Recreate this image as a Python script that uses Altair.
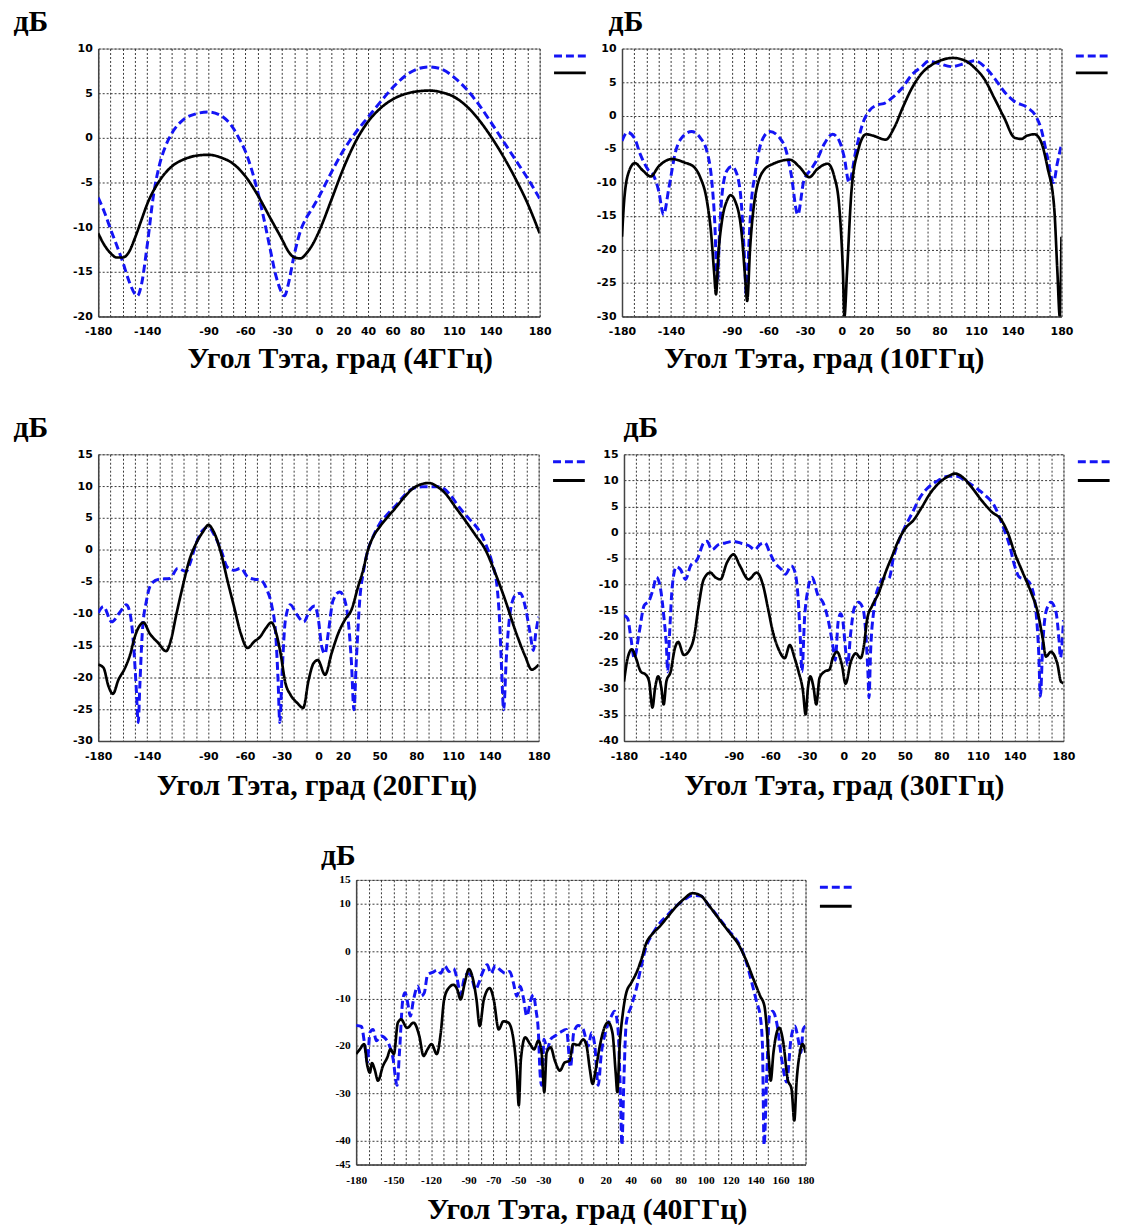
import altair as alt
import pandas as pd

SERIES = ["ряд 1", "ряд 2"]          # blue dashed, black solid
COLORS = ["#1414f5", "#000000"]
SERIF = "Liberation Serif"
SANS = "DejaVu Sans"

# ---------------- 4 GHz ----------------
P1_BLUE_DEG = [-180, -175, -170, -165, -160, -155, -150, -148, -145, -140, -135, -130, -125, -120, -110, -100, -90, -80, -70, -65, -60, -55, -50, -45, -40, -35, -30, -28, -25, -20, -15, -10, -5, 0, 10, 20, 30, 40, 50, 60, 70, 80, 90, 100, 110, 120, 130, 140, 150, 160, 170, 180]
P1_BLUE_DB = [-6.7, -8.3, -10.2, -12.0, -13.9, -16.0, -17.5, -17.7, -16.6, -12.0, -6.5, -3.0, -0.9, 0.5, 2.1, 2.7, 2.9, 2.5, 1.1, -0.1, -1.5, -3.5, -6.0, -9.0, -12.3, -15.5, -17.4, -17.7, -16.4, -13.0, -10.4, -8.9, -7.8, -6.6, -3.9, -1.4, 0.6, 2.3, 4.0, 5.6, 6.9, 7.7, 7.95, 7.7, 6.8, 5.5, 3.8, 1.8, -0.3, -2.4, -4.5, -6.8]
P1_BLACK_DEG = [-180, -175, -170, -165, -160, -155, -150, -145, -140, -130, -120, -110, -100, -90, -80, -70, -60, -50, -40, -30, -25, -20, -15, -10, -5, 0, 10, 20, 30, 40, 50, 60, 70, 80, 90, 100, 110, 120, 130, 140, 150, 160, 170, 180]
P1_BLACK_DB = [-10.7, -12.0, -12.9, -13.4, -13.4, -12.8, -11.2, -9.3, -7.4, -4.8, -3.2, -2.4, -2.0, -1.9, -2.2, -2.9, -4.3, -6.4, -8.9, -11.4, -12.7, -13.4, -13.5, -12.9, -11.9, -10.5, -7.0, -3.4, -0.4, 1.8, 3.3, 4.3, 4.9, 5.2, 5.3, 5.1, 4.6, 3.6, 2.1, 0.2, -2.0, -4.5, -7.3, -10.7]

# ---------------- 10 GHz ----------------
P2_BLUE_DEG = [-180, -175.5, -170, -165, -159, -154, -150, -146, -141.5, -136, -131, -123, -116, -110.5, -106.5, -104, -102, -100, -98, -94, -90, -86, -82, -80, -78, -76, -74.5, -71, -65.5, -59, -51, -45.5, -41.5, -36, -31, -25, -20, -14.5, -7.5, -2, 2, 6, 11.5, 17, 22.5, 28, 36, 41, 49.5, 57.5, 65.5, 71, 79, 90, 101, 109, 117, 125, 133, 141.5, 152, 159, 163, 168.5, 173.5, 176.5, 180]
P2_BLUE_DB = [-3.8, -2.5, -3.3, -5.8, -8.0, -9.0, -11.2, -14.8, -10.7, -5.3, -3.3, -2.4, -3.3, -5.3, -9.7, -16.0, -25.0, -17.0, -11.7, -8.2, -7.6, -8.7, -13.7, -20.0, -27.0, -19.0, -14.0, -8.7, -3.8, -2.4, -3.3, -5.3, -8.7, -14.8, -9.7, -8.0, -6.5, -4.3, -2.8, -3.8, -6.2, -10.0, -5.3, -1.3, 0.7, 1.5, 1.9, 2.6, 4.1, 6.1, 7.3, 8.1, 7.8, 7.3, 7.8, 8.2, 7.3, 5.6, 3.6, 2.1, 1.2, -0.1, -1.8, -6.2, -10.0, -7.2, -4.3]
P2_BLACK_DEG = [-180, -178, -174, -169.5, -163, -156.5, -150, -139, -129, -121, -116, -110.5, -107, -104.5, -103, -101, -98, -94, -91, -87.5, -82, -79, -77.5, -75, -71, -64, -56, -42.5, -34.5, -26.5, -20, -11.5, -6, -2, 1, 2.2, 4.3, 8, 13.3, 20, 25.5, 36, 43, 50, 57.5, 65.5, 74, 82, 91, 101, 109, 117, 125, 133, 141.5, 147, 152, 158, 163, 168.5, 174, 176.7, 178.6, 180]
P2_BLACK_DB = [-18.1, -12.2, -8.2, -7.1, -8.2, -9.1, -7.6, -6.5, -7.0, -7.7, -9.2, -12.7, -17.6, -23.5, -26.7, -20.6, -15.6, -12.7, -11.9, -12.7, -17.6, -24.5, -27.7, -19.6, -12.2, -8.2, -7.2, -6.6, -7.7, -9.2, -8.0, -7.2, -9.2, -13.7, -23.5, -30.0, -23.5, -11.2, -5.3, -2.8, -3.0, -3.6, -1.8, 1.2, 4.1, 6.3, 7.6, 8.3, 8.6, 8.2, 7.1, 5.4, 2.6, -0.3, -3.3, -3.5, -3.0, -2.8, -3.8, -7.7, -13.7, -23.5, -30.0, -18.1]

# ---------------- 20 GHz ----------------
P3_BLUE_DEG = [-180, -175.7, -169, -162, -157, -153.5, -151, -149, -147.3, -146, -144, -140.5, -136.5, -130, -121.5, -115, -108, -105.5, -100, -94.5, -90, -85, -79.5, -74.5, -69, -63.5, -58, -52.5, -47.5, -42, -38, -35, -33, -31.6, -29.7, -27, -23, -17.5, -12, -7, -3, 0, 2.7, 5.4, 8, 12, 17.5, 21.5, 24.3, 27, 29, 31, 34, 36.5, 40.5, 44.5, 50, 57, 63.5, 70, 77, 85, 90.5, 99, 107, 115, 123, 131, 136.5, 142, 146, 148, 149.5, 151.4, 153.5, 157, 161, 165, 169, 173, 175.7, 177.6, 180]
P3_BLUE_DB = [-9.9, -8.9, -11.3, -9.7, -8.6, -10.5, -15.2, -21.4, -27.1, -21.4, -13.1, -7.9, -5.3, -4.6, -4.5, -2.9, -3.4, -2.4, 1.0, 3.1, 3.6, 2.3, -0.1, -2.7, -3.2, -2.9, -4.2, -4.6, -4.7, -6.3, -8.9, -13.1, -20.4, -27.1, -19.3, -11.0, -8.6, -10.2, -11.3, -9.4, -8.8, -11.0, -15.2, -16.3, -13.1, -7.9, -6.6, -7.9, -11.0, -17.8, -25.1, -17.2, -7.3, -3.7, 0.0, 2.0, 4.1, 5.7, 7.0, 8.5, 9.6, 9.9, 9.9, 9.9, 8.8, 6.7, 4.9, 3.1, 1.0, -2.1, -5.8, -11.0, -17.8, -25.1, -17.2, -9.4, -7.1, -6.8, -8.9, -13.1, -15.8, -13.1, -10.5]
P3_BLACK_DEG = [-180, -175.7, -171.6, -168, -163.5, -158, -154, -150, -146.5, -143, -138, -131, -124.5, -120.5, -116, -111, -105.5, -100, -94.5, -90, -85, -79.5, -74.5, -69, -63.5, -58, -52.5, -47.5, -43, -38.5, -34.5, -31, -27, -23, -17.5, -12.5, -8, -4, -0.5, 5.4, 10.8, 16.2, 21.6, 27, 32.4, 36.5, 40.5, 44.6, 50, 56.8, 63.5, 70.3, 77, 84, 90.5, 97.3, 104, 112, 120, 128.4, 136.5, 144.6, 152.7, 160.8, 169, 174.3, 180]
P3_BLACK_DB = [-18.0, -18.5, -21.4, -22.6, -20.4, -18.5, -16.5, -13.6, -12.0, -11.4, -13.1, -14.6, -15.9, -14.1, -10.0, -5.8, -1.6, 1.0, 2.8, 3.9, 2.6, -0.6, -4.7, -8.9, -13.1, -15.4, -14.4, -13.6, -12.3, -11.4, -13.1, -16.2, -20.9, -22.7, -24.0, -24.8, -20.4, -17.8, -17.3, -19.6, -16.2, -13.1, -11.0, -9.4, -5.8, -3.2, 0.0, 2.0, 3.6, 5.2, 6.7, 8.3, 9.6, 10.3, 10.5, 9.9, 8.8, 6.7, 4.6, 2.3, 0.0, -3.7, -7.9, -12.6, -16.7, -18.8, -18.0]

# ---------------- 30 GHz ----------------
P4_BLUE_DEG = [-180, -177, -174.3, -171.6, -167.5, -163.5, -159.4, -156.2, -153.4, -150, -147.2, -145.3, -144.2, -142.6, -140.4, -137.2, -133.7, -129.6, -125.5, -120, -114.7, -112, -108, -102.5, -97, -90.3, -83.5, -78, -72.7, -68.6, -64.6, -60.5, -56.4, -51, -47.8, -43, -40.2, -37.5, -35.3, -34.2, -32.1, -29.3, -26, -21, -17, -13, -9, -7, -4.5, -2.5, -1, 1.7, 3.1, 5.8, 8.5, 12, 15.8, 18, 19.9, 20.7, 22, 24.8, 28.8, 33, 37, 41, 45, 50.5, 56, 62.7, 69.5, 77.6, 85.7, 92.5, 99.3, 107.4, 115.5, 123.7, 130.4, 136, 140, 144, 149.4, 153.5, 157.5, 159.7, 161.1, 163, 165.7, 169.7, 173.8, 176.5, 177.5, 180]
P4_BLUE_DB = [-15.9, -16.5, -20.3, -24.1, -19.1, -14.0, -13.1, -10.9, -8.6, -10.9, -16.5, -21.6, -26.7, -19.1, -10.2, -6.6, -7.1, -9.0, -6.4, -5.2, -2.0, -1.7, -3.3, -2.3, -2.0, -1.7, -2.1, -2.5, -3.3, -2.3, -2.0, -3.9, -5.8, -7.1, -8.0, -6.4, -7.4, -12.1, -21.6, -26.7, -16.5, -10.9, -8.6, -12.1, -13.4, -16.5, -21.6, -24.5, -17.0, -15.6, -16.5, -22.9, -25.4, -19.1, -14.6, -13.4, -14.6, -19.1, -27.3, -31.7, -22.9, -14.6, -10.2, -8.8, -8.8, -4.5, -1.7, 1.2, 3.7, 6.8, 8.7, 10.0, 10.8, 10.8, 10.0, 8.7, 7.2, 5.0, 1.2, -2.6, -6.4, -8.6, -9.0, -10.2, -15.2, -22.9, -31.4, -21.6, -15.2, -13.4, -15.2, -21.0, -24.0, -16.8]
P4_BLACK_DEG = [-180, -177, -173.5, -170.2, -166.2, -162, -159.4, -156.7, -154.5, -152, -149.4, -147.5, -145.3, -141.8, -138.3, -135.6, -131, -125.5, -122.8, -118.8, -114.7, -109.3, -105.2, -101, -95.7, -90.3, -85, -78, -71.3, -66, -62, -58, -53.7, -48.3, -44.2, -40.2, -37, -33.4, -31.2, -29.3, -27.4, -24.7, -22.5, -19.8, -15.8, -11.7, -9, -5.5, -1.5, 1.5, 5.8, 9.9, 13.9, 16.6, 19.3, 23.4, 28.8, 34.2, 39.7, 45.1, 50.5, 57.3, 64.1, 70.8, 77.6, 84.4, 91.2, 97.9, 104.7, 112.8, 121, 129.1, 134.5, 140, 146.7, 153.5, 158.9, 163, 165.7, 169.7, 175.2, 177.9, 180]
P4_BLACK_DB = [-28.6, -24.1, -22.4, -24.1, -26.7, -27.3, -28.6, -33.6, -29.8, -27.6, -29.8, -33.0, -28.6, -26.7, -22.2, -21.0, -23.5, -22.2, -20.3, -14.0, -9.0, -7.7, -8.6, -9.0, -5.8, -4.2, -6.4, -9.0, -7.7, -10.2, -14.6, -19.1, -22.2, -24.1, -21.6, -24.1, -26.7, -30.4, -34.9, -29.8, -27.6, -29.8, -33.0, -27.9, -26.7, -26.3, -24.1, -22.9, -25.4, -29.0, -24.8, -23.2, -24.1, -21.6, -16.5, -14.0, -11.5, -7.7, -4.5, -1.4, 0.8, 2.4, 4.9, 7.5, 9.4, 10.6, 11.3, 10.5, 8.7, 6.2, 4.0, 2.4, -0.1, -3.9, -7.7, -11.5, -15.3, -20.3, -23.8, -22.9, -25.4, -28.6, -28.9]

# ---------------- 40 GHz ----------------
P5_BLUE_DEG = [-180, -175.8, -173, -171, -169, -166.5, -163.8, -160, -156, -153.2, -150.6, -147.2, -145.3, -142.6, -140.8, -138.7, -136.6, -134, -130.7, -128, -125.4, -122.8, -118.8, -114.8, -112.2, -109, -105.6, -102, -99, -96.3, -93.6, -90.5, -87.8, -84.4, -81.7, -79, -75, -72, -68.5, -64.5, -60.5, -57, -54, -51.3, -48.6, -46, -43.3, -40, -38, -36, -34, -32.7, -31.4, -29.5, -27, -24.2, -20.8, -16.8, -11.5, -8.3, -5.7, -2, 1.9, 5.9, 8.6, 11.2, 13.9, 16.5, 20.5, 24.5, 27.1, 29.8, 31.6, 32.9, 34.5, 36.4, 40.4, 44.3, 48.3, 52.3, 57.6, 62.9, 69.5, 76.1, 82.7, 89.4, 96, 102.6, 110.6, 118.5, 126.5, 131.7, 137, 141, 143.7, 145.5, 146.8, 149, 151.1, 153.7, 156.9, 160.9, 164.9, 168.3, 171.5, 174.1, 176.3, 178.1, 180]
P5_BLUE_DB = [-15.7, -15.9, -20.0, -23.5, -17.2, -16.5, -18.9, -17.9, -18.6, -20.0, -22.4, -28.3, -21.4, -10.2, -8.8, -10.9, -13.7, -10.2, -7.4, -9.5, -8.8, -5.0, -4.5, -4.0, -4.7, -3.1, -4.3, -3.7, -6.0, -9.2, -6.0, -4.7, -5.3, -8.1, -6.7, -4.7, -2.9, -4.7, -3.1, -4.0, -4.7, -4.3, -6.7, -9.5, -7.4, -9.9, -13.7, -10.2, -9.2, -12.3, -17.2, -25.6, -28.3, -18.6, -20.7, -18.6, -17.9, -17.2, -16.5, -24.5, -17.2, -15.7, -16.5, -20.0, -17.2, -20.0, -28.3, -21.4, -16.5, -13.7, -12.7, -16.5, -29.0, -40.9, -27.0, -15.1, -11.6, -8.1, -3.3, 0.9, 3.7, 5.8, 7.6, 9.4, 10.8, 11.7, 11.6, 9.6, 7.0, 4.3, 1.6, -1.6, -6.7, -10.9, -13.7, -20.0, -40.9, -25.6, -13.7, -12.7, -15.1, -22.8, -27.6, -18.6, -15.8, -18.6, -21.4, -16.5, -15.8]
P5_BLACK_DEG = [-180, -177, -173.6, -171, -169, -167.3, -165.2, -162.5, -158.5, -155, -152.5, -149.8, -146.6, -144, -139.2, -134, -129.4, -126, -122.8, -119.6, -115.4, -112.2, -109.5, -105.6, -102, -99, -96.3, -93, -89.7, -87, -83.6, -81, -77.7, -73, -69.8, -65.8, -62, -58, -54, -51.3, -49.7, -48, -44.6, -40.7, -37.5, -34, -31.4, -29.3, -27.4, -24.2, -20.8, -16.8, -13, -9, -6.2, -2, 1.9, 4.6, 7.2, 9.4, 12, 15.2, 18.4, 21.8, 25.3, 27.9, 29.2, 31.1, 33.7, 36.4, 40.4, 44.3, 48.3, 52.3, 57.6, 62.9, 69.5, 76.1, 82.7, 89.4, 96, 102.6, 110.6, 118.5, 126.5, 131.7, 138.4, 143.7, 147.1, 149, 150.8, 152.1, 154.3, 156.9, 159, 162.2, 165.7, 168.8, 171, 172.8, 175.5, 177.6, 180]
P5_BLACK_DB = [-21.7, -20.7, -19.6, -24.2, -25.6, -23.6, -24.9, -27.3, -24.2, -22.4, -20.7, -21.7, -15.1, -14.4, -16.2, -15.1, -17.9, -22.1, -20.7, -19.6, -21.7, -17.2, -10.2, -7.7, -7.1, -8.1, -10.2, -6.7, -3.8, -5.3, -10.2, -15.8, -10.2, -7.8, -10.2, -16.5, -14.8, -15.1, -18.6, -25.6, -32.5, -22.8, -18.2, -19.6, -20.7, -18.9, -21.4, -29.7, -21.4, -20.3, -23.1, -25.2, -23.5, -23.1, -19.6, -19.8, -18.6, -20.0, -24.9, -28.0, -24.9, -20.0, -16.5, -15.0, -17.2, -25.6, -29.7, -20.0, -13.0, -8.8, -6.7, -4.7, -1.9, 1.6, 3.7, 5.1, 7.2, 9.3, 11.0, 12.2, 11.7, 9.6, 6.8, 4.1, 1.3, -1.5, -6.0, -9.5, -11.6, -16.5, -23.5, -27.3, -21.4, -17.2, -16.2, -19.3, -27.0, -29.1, -35.7, -27.6, -21.4, -19.6, -21.4]

XLAB_A = [-180, -140, -90, -60, -30, 0, 20, 40, 60, 80, 110, 140, 180]
XLAB_B = [-180, -140, -90, -60, -30, 0, 20, 50, 80, 110, 140, 180]
XLAB_C = [-180, -150, -120, -90, -70, -50, -30, 0, 20, 40, 60, 80, 100, 120, 140, 160, 180]


def panel(bx, by, kx, ky, W, H, ydom, yvals, xlabels, freq, title_dx, title_y,
          db_dx, db_dy, tick_font, tick_size, row_pad, xlab_pad):
    df = pd.DataFrame({
        "deg": bx + kx,
        "db": by + ky,
        "series": [SERIES[0]] * len(bx) + [SERIES[1]] * len(kx),
    })
    shown = ",".join(str(v) for v in xlabels)
    xaxis = alt.Axis(
        values=list(range(-180, 181, 10)),
        labelExpr=f"indexof([{shown}], datum.value) >= 0 ? datum.value + '' : ''",
        labelOverlap=False, labelFlush=False, labelFont=tick_font,
        labelFontSize=tick_size, labelFontWeight="bold", labelColor="black",
        labelPadding=xlab_pad, ticks=False, grid=True, gridColor="#222",
        gridDash=[2, 2], gridWidth=1, gridOpacity=0.9,
        domainColor="#444", domainWidth=1.5,
        title=f"Угол Тэта, град ({freq})", titleFont=SERIF, titleFontSize=30,
        titleFontWeight="bold", titleColor="black",
        titleX=W / 2 + title_dx, titleY=title_y, titleBaseline="alphabetic",
    )
    yaxis = alt.Axis(
        values=yvals, labelExpr="datum.value + ''", labelFont=tick_font,
        labelFontSize=tick_size, labelFontWeight="bold", labelColor="black",
        labelPadding=6, ticks=False, grid=True, gridColor="#222",
        gridDash=[2, 2], gridWidth=1, gridOpacity=0.9,
        domainColor="#444", domainWidth=1.5,
        title="дБ", titleFont=SERIF, titleFontSize=30, titleFontWeight="bold",
        titleColor="black", titleAngle=0, titleAlign="left",
        titleBaseline="top", titleX=db_dx, titleY=db_dy,
    )
    leg = alt.Legend(
        orient="none", legendX=W + 25, legendY=2, title=None,
        symbolType="M-4,0H4", symbolSize=64, symbolStrokeWidth=3,
        labelExpr="''", labelFontSize=8, rowPadding=row_pad, padding=0,
    )
    return alt.Chart(df).mark_line(clip=True, interpolate="monotone").encode(
        x=alt.X("deg:Q", scale=alt.Scale(domain=[-180, 180], nice=False, zero=False), axis=xaxis),
        y=alt.Y("db:Q", scale=alt.Scale(domain=ydom, nice=False, zero=False), axis=yaxis),
        color=alt.Color("series:N", scale=alt.Scale(domain=SERIES, range=COLORS), legend=leg),
        strokeDash=alt.StrokeDash("series:N", scale=alt.Scale(domain=SERIES, range=[[8, 4], [1, 0]]), legend=leg),
        strokeWidth=alt.StrokeWidth("series:N", scale=alt.Scale(domain=SERIES, range=[3, 2.7]), legend=None),
    ).properties(width=W, height=H)


p1 = panel(P1_BLUE_DEG, P1_BLUE_DB, P1_BLACK_DEG, P1_BLACK_DB, 445, 270, [-20, 10],
           list(range(-20, 11, 5)), XLAB_A, "4ГГц", 21, 51, -86, -42, SANS, 11, 4, 9)
p2 = panel(P2_BLUE_DEG, P2_BLUE_DB, P2_BLACK_DEG, P2_BLACK_DB, 443, 270, [-30, 10],
           list(range(-30, 11, 5)), XLAB_B, "10ГГц", -18, 51, -14, -42, SANS, 11, 4, 9)
p3 = panel(P3_BLUE_DEG, P3_BLUE_DB, P3_BLACK_DEG, P3_BLACK_DB, 444, 289, [-30, 15],
           list(range(-30, 16, 5)), XLAB_B, "20ГГц", -2, 54, -86, -42, SANS, 11, 6, 10)
p4 = panel(P4_BLUE_DEG, P4_BLUE_DB, P4_BLACK_DEG, P4_BLACK_DB, 443, 289, [-40, 15],
           list(range(-40, 16, 5)), XLAB_B, "30ГГц", 0, 54, -1, -42, SANS, 11, 6, 10)
p5 = panel(P5_BLUE_DEG, P5_BLUE_DB, P5_BLACK_DEG, P5_BLACK_DB, 453, 287, [-45, 15],
           [15, 10, 0, -10, -20, -30, -40, -45], XLAB_C, "40ГГц", 6, 54, -36, -40, SERIF, 11.5, 6, 10)

spacer = alt.Chart(pd.DataFrame({"v": [0]})).mark_point(opacity=0).encode(
    x=alt.X("v:Q", axis=None), y=alt.Y("v:Q", axis=None)
).properties(width=260, height=287, view=alt.ViewBackground(stroke="transparent"))

ind = dict(color="independent", strokeDash="independent")
row1 = alt.hconcat(p1, p2, spacing=83, bounds="flush").resolve_legend(**ind)
row2 = alt.hconcat(p3, p4, spacing=86, bounds="flush").resolve_legend(**ind)
row3 = alt.hconcat(spacer, p5, spacing=0, bounds="flush").resolve_legend(**ind)

chart = alt.vconcat(row1, row2, row3, spacing=38).resolve_legend(**ind).properties(
    padding={"left": 12, "top": 1, "right": 4, "bottom": 4},
    background="white",
).configure_view(stroke="#999", strokeWidth=1)

chart.save("out.html", embed_options={"renderer": "svg", "actions": False})
